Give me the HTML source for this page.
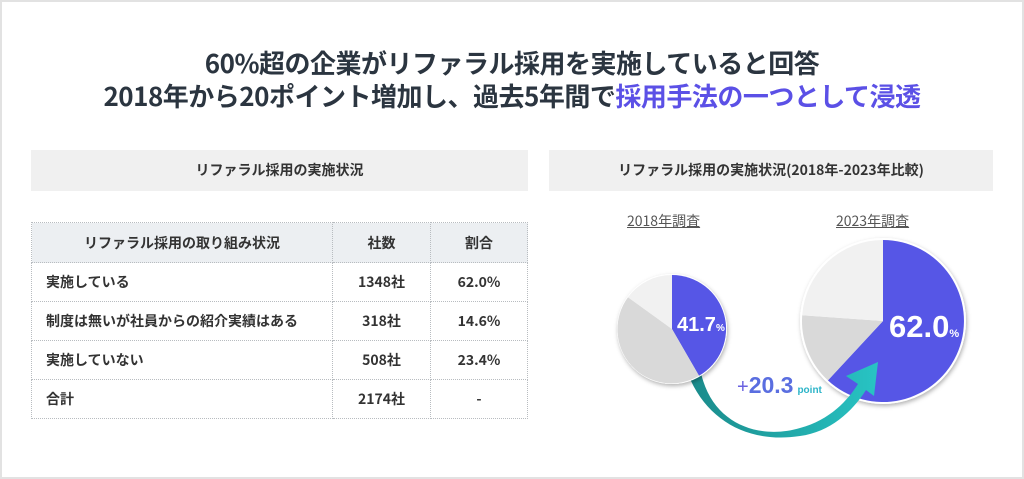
<!DOCTYPE html>
<html><head><meta charset="utf-8"><style>
*{margin:0;padding:0;box-sizing:border-box}
body{width:1024px;height:479px;background:#fff;font-family:"Liberation Sans","Noto Sans CJK JP",sans-serif;color:#2b3540;position:relative;overflow:hidden}
.frame{position:absolute;left:0;top:0;width:1024px;height:479px;border:2px solid #e2e2e2}
.t{position:absolute;left:0;width:1024px;text-align:center;font-weight:bold;font-size:26px;letter-spacing:-0.5px;font-family:"Noto Sans CJK JP",sans-serif}
.hb{position:absolute;top:150px;height:41px;background:#f0f0f0;font-size:14px;font-weight:bold;text-align:center;line-height:41px;font-family:"Noto Sans CJK JP",sans-serif;color:#333}
table{position:absolute;left:31px;top:222px;width:497px;border-collapse:collapse;font-family:"Noto Sans CJK JP",sans-serif;font-size:14px;font-weight:bold;color:#333}
td{border:1px dotted #b8bcc0;height:39px;padding:0 14px}
tr.h td{background:#eceff2;text-align:center;height:40px}
td.c{text-align:center}
.lab{position:absolute;font-size:14px;color:#555;text-decoration:underline;font-family:"Noto Sans CJK JP",sans-serif}
</style></head><body>
<div class="frame"></div>
<div class="t" style="top:44px">60%超の企業がリファラル採用を実施していると回答</div>
<div class="t" style="top:77px">2018年から20ポイント増加し、過去5年間で<span style="color:#5b50e6">採用手法の一つとして浸透</span></div>
<div class="hb" style="left:31px;width:497px">リファラル採用の実施状況</div>
<div class="hb" style="left:549px;width:444px">リファラル採用の実施状況(2018年-2023年比較)</div>
<table>
<tr class="h"><td>リファラル採用の取り組み状況</td><td style="width:98px">社数</td><td style="width:97px">割合</td></tr>
<tr><td>実施している</td><td class="c">1348社</td><td class="c">62.0%</td></tr>
<tr><td>制度は無いが社員からの紹介実績はある</td><td class="c">318社</td><td class="c">14.6%</td></tr>
<tr><td>実施していない</td><td class="c">508社</td><td class="c">23.4%</td></tr>
<tr><td>合計</td><td class="c">2174社</td><td class="c">-</td></tr>
</table>
<div class="lab" style="left:627px;top:211px">2018年調査</div>
<div class="lab" style="left:836px;top:211px">2023年調査</div>
<svg width="1024" height="479" style="position:absolute;left:0;top:0">
<defs>
<linearGradient id="g" x1="0" x2="1" y1="0" y2="0"><stop offset="0" stop-color="#1a8a8a"/><stop offset="1" stop-color="#28c4c4"/></linearGradient>
<filter id="s" x="-20%" y="-20%" width="140%" height="140%"><feDropShadow dx="1" dy="2" stdDeviation="2" flood-opacity="0.3"/></filter>
</defs>
<g filter="url(#s)">
<circle cx="883" cy="321" r="83" fill="#fff"/>
<path d="M883,321 L883,240 A81,81 0 1 1 827.9,380.4 Z" fill="#5757e6"/>
<path d="M883,321 L827.9,380.4 A81,81 0 0 1 802.2,315.3 Z" fill="#d9d9d9"/>
<path d="M883,321 L802.2,315.3 A81,81 0 0 1 883,240 Z" fill="#f1f1f1"/>
</g>
<path d="M700,368 C710,425 760,440 800,428 C830,420 848,400 858,384 L846,376 L878,362 L874,396 L866,390 C852,412 830,432 800,436 C748,444 706,420 688,374 Z" fill="url(#g)"/>
<g filter="url(#s)">
<circle cx="672" cy="329" r="55" fill="#fff"/>
<path d="M672,329 L672,275 A54,54 0 0 1 699,375.8 Z" fill="#5757e6"/>
<path d="M672,329 L699,375.8 A54,54 0 0 1 628,297.3 Z" fill="#d9d9d9"/>
<path d="M672,329 L628,297.3 A54,54 0 0 1 672,275 Z" fill="#f1f1f1"/>
</g>
<text x="677" y="331" fill="#fff" font-size="20" font-weight="bold" font-family="Liberation Sans,sans-serif">41.7<tspan font-size="10">%</tspan></text>
<text x="889" y="337" fill="#fff" font-size="31" font-weight="bold" font-family="Liberation Sans,sans-serif">62.0<tspan font-size="11">%</tspan></text>
<text x="737" y="393" font-family="Liberation Sans,sans-serif" font-weight="bold"><tspan fill="#6a62e0" font-size="20" font-weight="normal">+</tspan><tspan fill="#5a6ee0" font-size="23">20.3</tspan><tspan fill="#2cb4c8" font-size="10" dx="4">point</tspan></text>
</svg>
</body></html>
